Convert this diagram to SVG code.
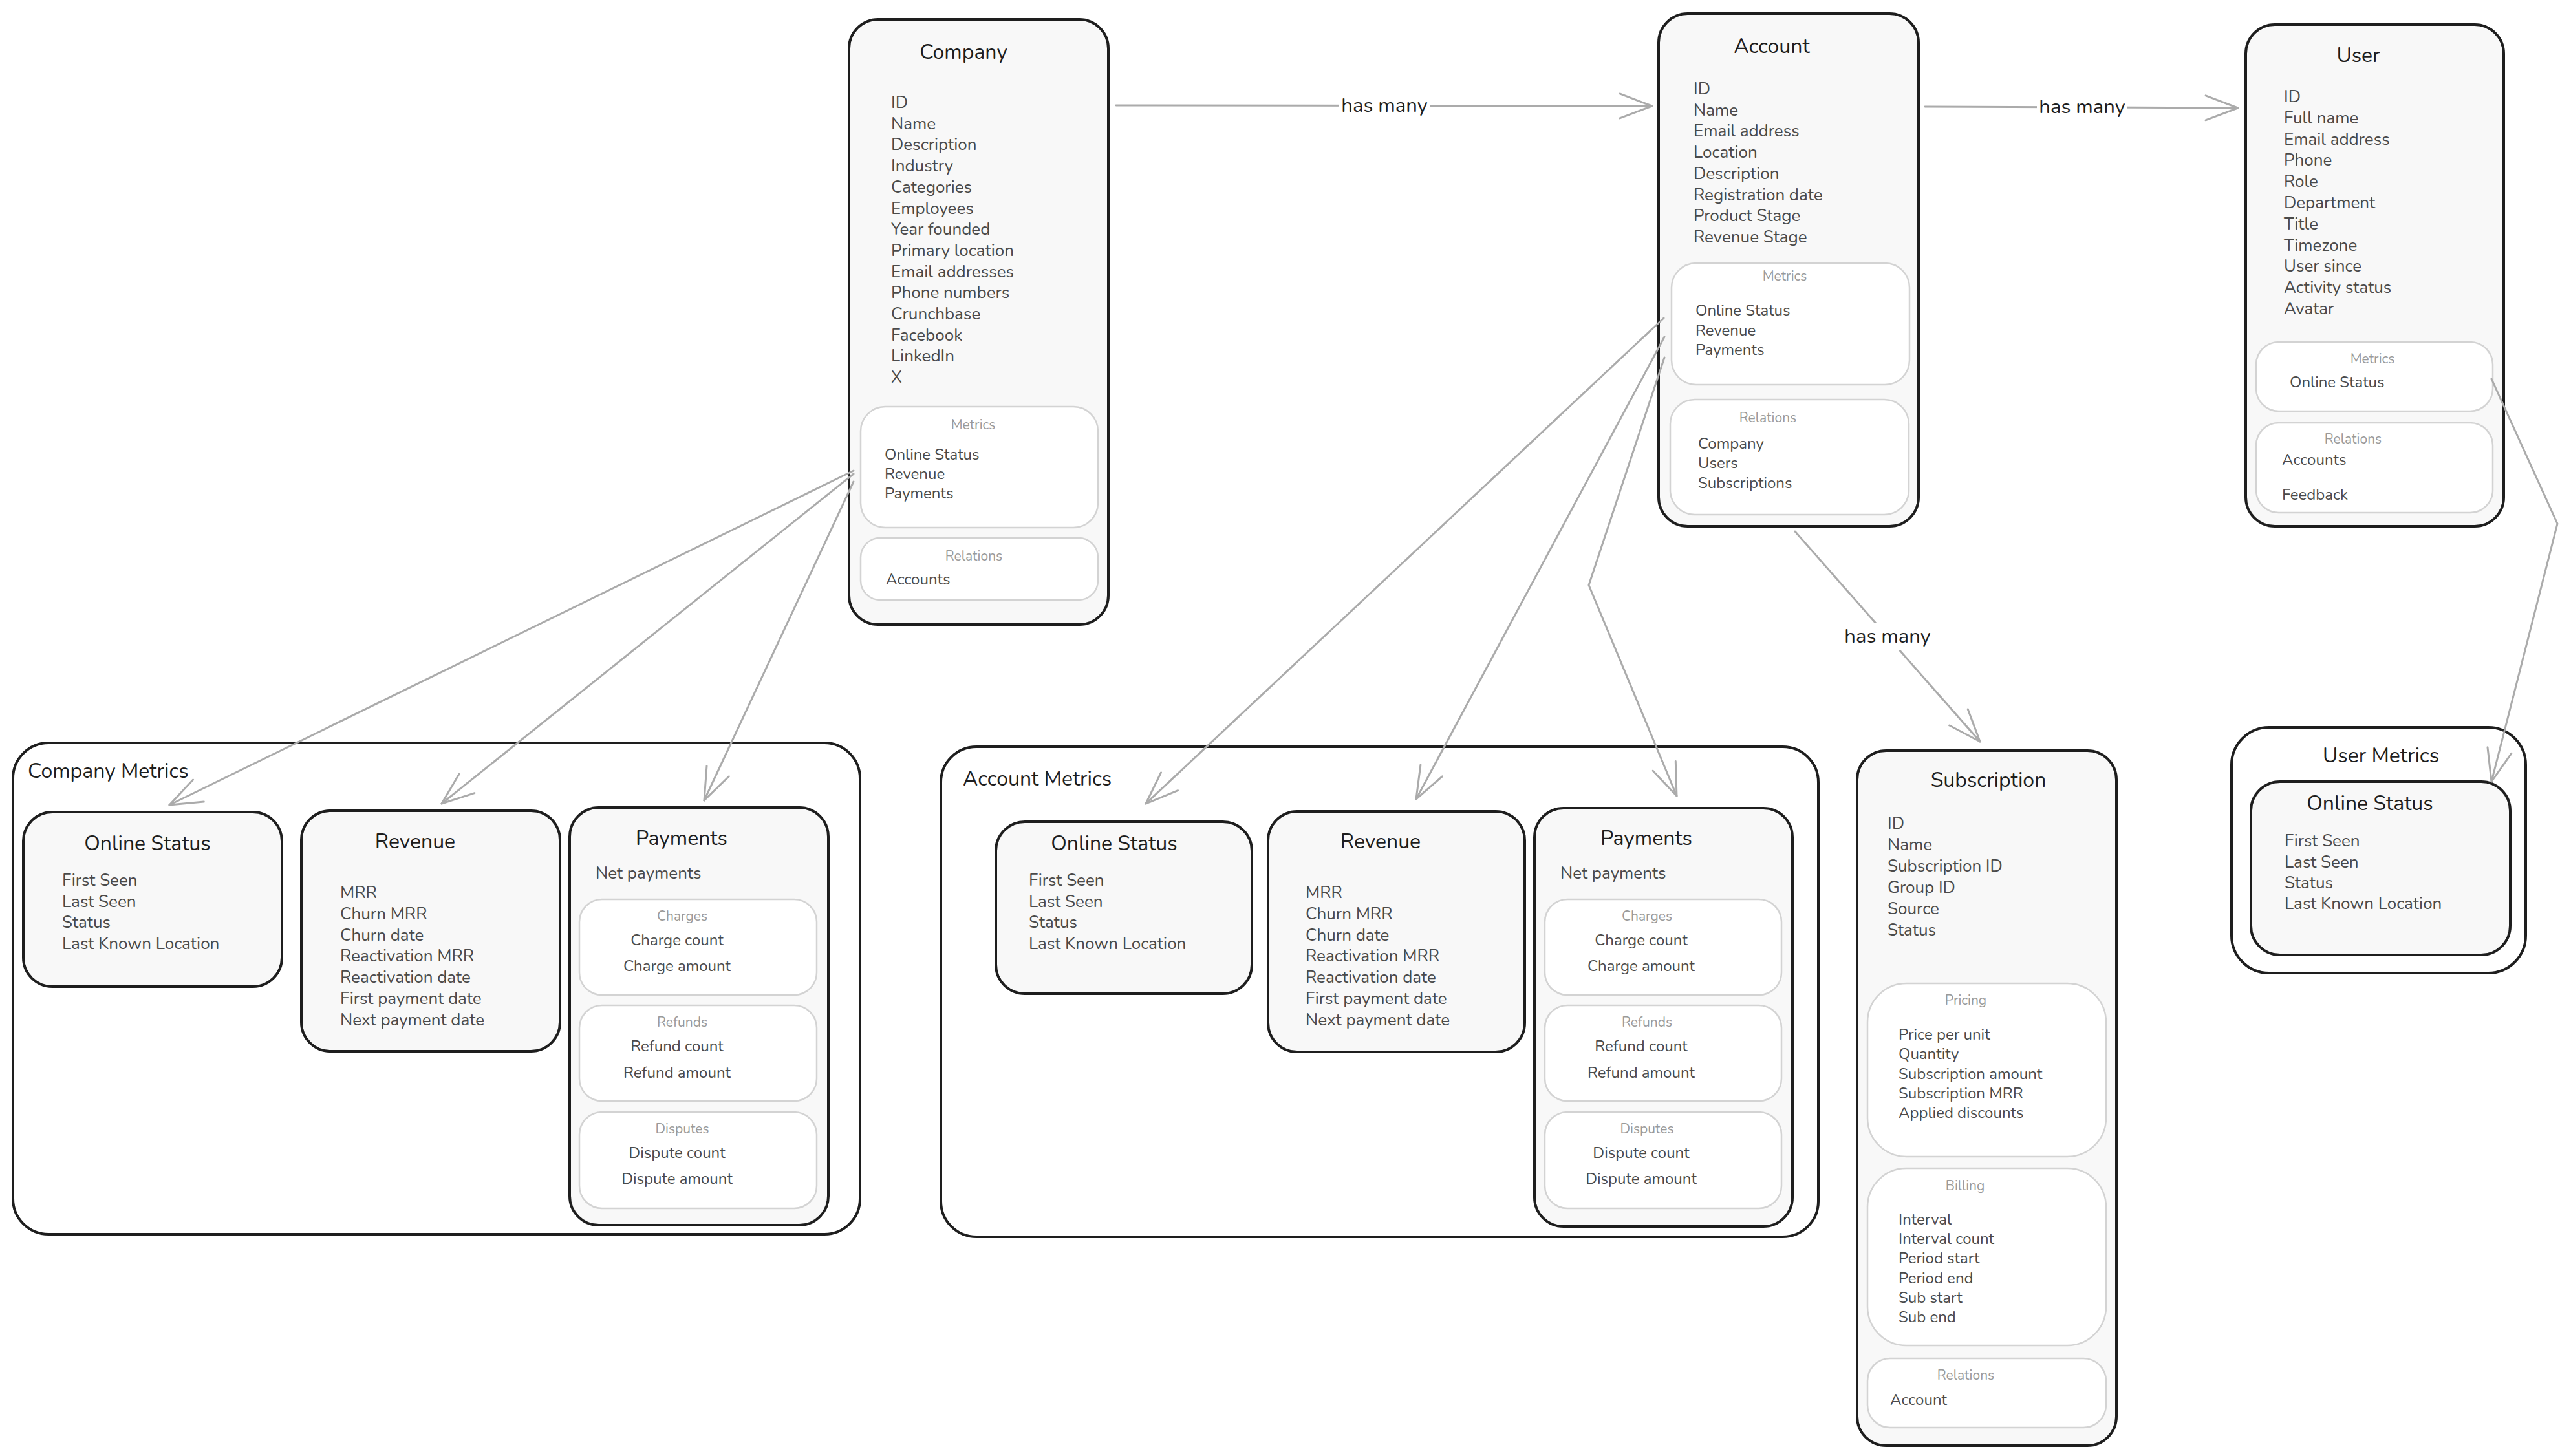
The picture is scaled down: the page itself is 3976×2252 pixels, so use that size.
<svg xmlns="http://www.w3.org/2000/svg" width="3976" height="2252" viewBox="0 0 3976 2252">
<style>
text{font-family:Nunito,Lato,"Open Sans",sans-serif}
.node{fill:#f8f8f8;stroke:#1e1e1e;stroke-width:4}
.grp{fill:#ffffff;stroke:#1e1e1e;stroke-width:4}
.sub{fill:#ffffff;stroke:#d3d3d3;stroke-width:2.5}
.title{font-size:32px;fill:#1e1e1e;text-anchor:middle}
.gtitle{font-size:32px;fill:#1e1e1e}
.f{font-size:26px;fill:#4a4a4a}
.s{font-size:24px;fill:#4a4a4a}
.sc{font-size:24px;fill:#4a4a4a;text-anchor:middle}
.lbl{font-size:21px;fill:#9a9a9a;text-anchor:middle}
.edge{fill:none;stroke:#ababab;stroke-width:3;stroke-linecap:round;stroke-linejoin:round}
.elbl{font-size:31px;fill:#1e1e1e;text-anchor:middle}
</style>
<defs>
<marker id="arr" markerUnits="userSpaceOnUse" markerWidth="60" markerHeight="60" refX="0" refY="0" orient="auto" overflow="visible">
<path d="M-50,-19 L0,0 L-50,19" fill="none" stroke="#ababab" stroke-width="3" stroke-linecap="round" stroke-linejoin="round"/>
</marker>
</defs>
<rect width="3976" height="2252" fill="#ffffff"/>

<g id="company-metrics">
<rect class="grp" x="20" y="1149" width="1310" height="760" rx="55"/>
<text class="gtitle" x="43" y="1203">Company Metrics</text>
<g id="cm-online-status">
<rect class="node" x="36" y="1256" width="400" height="270" rx="45"/>
<text class="title" x="228" y="1315">Online Status</text>
<text class="f" x="96" y="1370">First Seen</text>
<text class="f" x="96" y="1402.7">Last Seen</text>
<text class="f" x="96" y="1435.4">Status</text>
<text class="f" x="96" y="1468">Last Known Location</text>
</g>
<g id="cm-revenue">
<rect class="node" x="466" y="1254" width="400" height="372" rx="45"/>
<text class="title" x="642" y="1312">Revenue</text>
<text class="f" x="526" y="1389">MRR</text>
<text class="f" x="526" y="1421.8">Churn MRR</text>
<text class="f" x="526" y="1454.6">Churn date</text>
<text class="f" x="526" y="1487.4">Reactivation MRR</text>
<text class="f" x="526" y="1520.2">Reactivation date</text>
<text class="f" x="526" y="1553">First payment date</text>
<text class="f" x="526" y="1585.8">Next payment date</text>
</g>
<g id="cm-payments">
<rect class="node" x="881" y="1249" width="400" height="646" rx="45"/>
<text class="title" x="1054" y="1307">Payments</text>
<text class="f" x="921" y="1359">Net payments</text>
<rect class="sub" x="896" y="1391" width="367" height="148" rx="35"/>
<text class="lbl" x="1055" y="1424">Charges</text>
<text class="sc" x="1047" y="1462">Charge count</text>
<text class="sc" x="1047" y="1502">Charge amount</text>
<rect class="sub" x="896" y="1555" width="367" height="148" rx="35"/>
<text class="lbl" x="1055" y="1588">Refunds</text>
<text class="sc" x="1047" y="1626">Refund count</text>
<text class="sc" x="1047" y="1667">Refund amount</text>
<rect class="sub" x="896" y="1720" width="367" height="149" rx="35"/>
<text class="lbl" x="1055" y="1753">Disputes</text>
<text class="sc" x="1047" y="1791">Dispute count</text>
<text class="sc" x="1047" y="1831">Dispute amount</text>
</g>
</g>

<g id="account-metrics">
<rect class="grp" x="1455" y="1155" width="1357" height="758" rx="55"/>
<text class="gtitle" x="1489" y="1215">Account Metrics</text>
<g id="am-online-status">
<rect class="node" x="1540" y="1271" width="396" height="266" rx="45"/>
<text class="title" x="1723" y="1315">Online Status</text>
<text class="f" x="1591" y="1370">First Seen</text>
<text class="f" x="1591" y="1402.7">Last Seen</text>
<text class="f" x="1591" y="1435.4">Status</text>
<text class="f" x="1591" y="1468">Last Known Location</text>
</g>
<g id="am-revenue">
<rect class="node" x="1961" y="1255" width="397" height="372" rx="45"/>
<text class="title" x="2135" y="1312">Revenue</text>
<text class="f" x="2019" y="1389">MRR</text>
<text class="f" x="2019" y="1421.8">Churn MRR</text>
<text class="f" x="2019" y="1454.6">Churn date</text>
<text class="f" x="2019" y="1487.4">Reactivation MRR</text>
<text class="f" x="2019" y="1520.2">Reactivation date</text>
<text class="f" x="2019" y="1553">First payment date</text>
<text class="f" x="2019" y="1585.8">Next payment date</text>
</g>
<g id="am-payments">
<rect class="node" x="2373" y="1250" width="399" height="647" rx="45"/>
<text class="title" x="2546" y="1307">Payments</text>
<text class="f" x="2413" y="1359">Net payments</text>
<rect class="sub" x="2389" y="1391" width="366" height="148" rx="35"/>
<text class="lbl" x="2547" y="1424">Charges</text>
<text class="sc" x="2538" y="1462">Charge count</text>
<text class="sc" x="2538" y="1502">Charge amount</text>
<rect class="sub" x="2389" y="1555" width="366" height="148" rx="35"/>
<text class="lbl" x="2547" y="1588">Refunds</text>
<text class="sc" x="2538" y="1626">Refund count</text>
<text class="sc" x="2538" y="1667">Refund amount</text>
<rect class="sub" x="2389" y="1720" width="366" height="149" rx="35"/>
<text class="lbl" x="2547" y="1753">Disputes</text>
<text class="sc" x="2538" y="1791">Dispute count</text>
<text class="sc" x="2538" y="1831">Dispute amount</text>
</g>
</g>

<g id="user-metrics">
<rect class="grp" x="3451" y="1125" width="455" height="380" rx="58"/>
<text class="title" x="3682" y="1179">User Metrics</text>
<g id="um-online-status">
<rect class="node" x="3481" y="1209" width="401" height="268" rx="45"/>
<text class="title" x="3665" y="1253">Online Status</text>
<text class="f" x="3533" y="1309">First Seen</text>
<text class="f" x="3533" y="1342">Last Seen</text>
<text class="f" x="3533" y="1374">Status</text>
<text class="f" x="3533" y="1406">Last Known Location</text>
</g>
</g>

<g id="company">
<rect class="node" x="1313" y="30" width="401" height="936" rx="45"/>
<text class="title" x="1490" y="91">Company</text>
<text class="f" x="1378" y="167">ID</text>
<text class="f" x="1378" y="199.7">Name</text>
<text class="f" x="1378" y="232.4">Description</text>
<text class="f" x="1378" y="265.1">Industry</text>
<text class="f" x="1378" y="297.8">Categories</text>
<text class="f" x="1378" y="330.5">Employees</text>
<text class="f" x="1378" y="363.2">Year founded</text>
<text class="f" x="1378" y="395.9">Primary location</text>
<text class="f" x="1378" y="428.6">Email addresses</text>
<text class="f" x="1378" y="461.3">Phone numbers</text>
<text class="f" x="1378" y="494">Crunchbase</text>
<text class="f" x="1378" y="526.7">Facebook</text>
<text class="f" x="1378" y="559.4">LinkedIn</text>
<text class="f" x="1378" y="592">X</text>
<rect class="sub" x="1331" y="629" width="367" height="187" rx="38"/>
<text class="lbl" x="1505" y="664">Metrics</text>
<text class="s" x="1368" y="711">Online Status</text>
<text class="s" x="1368" y="741">Revenue</text>
<text class="s" x="1368" y="771">Payments</text>
<rect class="sub" x="1331" y="832" width="367" height="96" rx="30"/>
<text class="lbl" x="1506" y="867">Relations</text>
<text class="s" x="1370" y="904">Accounts</text>
</g>

<g id="account">
<rect class="node" x="2565" y="21" width="402" height="793" rx="45"/>
<text class="title" x="2740" y="82">Account</text>
<text class="f" x="2619" y="146">ID</text>
<text class="f" x="2619" y="178.7">Name</text>
<text class="f" x="2619" y="211.4">Email address</text>
<text class="f" x="2619" y="244.1">Location</text>
<text class="f" x="2619" y="276.8">Description</text>
<text class="f" x="2619" y="309.5">Registration date</text>
<text class="f" x="2619" y="342.2">Product Stage</text>
<text class="f" x="2619" y="375">Revenue Stage</text>
<rect class="sub" x="2585" y="407" width="368" height="188" rx="38"/>
<text class="lbl" x="2760" y="434">Metrics</text>
<text class="s" x="2622" y="488">Online Status</text>
<text class="s" x="2622" y="519">Revenue</text>
<text class="s" x="2622" y="549">Payments</text>
<rect class="sub" x="2583" y="618" width="369" height="178" rx="38"/>
<text class="lbl" x="2734" y="653">Relations</text>
<text class="s" x="2626" y="694">Company</text>
<text class="s" x="2626" y="724">Users</text>
<text class="s" x="2626" y="755">Subscriptions</text>
</g>

<g id="user">
<rect class="node" x="3473" y="38" width="399" height="776" rx="45"/>
<text class="title" x="3647" y="96">User</text>
<text class="f" x="3532" y="158">ID</text>
<text class="f" x="3532" y="190.8">Full name</text>
<text class="f" x="3532" y="223.6">Email address</text>
<text class="f" x="3532" y="256.4">Phone</text>
<text class="f" x="3532" y="289.2">Role</text>
<text class="f" x="3532" y="322">Department</text>
<text class="f" x="3532" y="354.8">Title</text>
<text class="f" x="3532" y="387.6">Timezone</text>
<text class="f" x="3532" y="420.4">User since</text>
<text class="f" x="3532" y="453.2">Activity status</text>
<text class="f" x="3532" y="486">Avatar</text>
<rect class="sub" x="3489" y="529" width="366" height="107" rx="35"/>
<text class="lbl" x="3669" y="562">Metrics</text>
<text class="s" x="3541" y="599">Online Status</text>
<rect class="sub" x="3489" y="654" width="366" height="139" rx="35"/>
<text class="lbl" x="3639" y="686">Relations</text>
<text class="s" x="3529" y="719">Accounts</text>
<text class="s" x="3529" y="773">Feedback</text>
</g>

<g id="subscription">
<rect class="node" x="2872" y="1161" width="401" height="1075" rx="45"/>
<text class="title" x="3075" y="1217">Subscription</text>
<text class="f" x="2919" y="1282">ID</text>
<text class="f" x="2919" y="1315">Name</text>
<text class="f" x="2919" y="1348">Subscription ID</text>
<text class="f" x="2919" y="1381">Group ID</text>
<text class="f" x="2919" y="1414">Source</text>
<text class="f" x="2919" y="1447">Status</text>
<rect class="sub" x="2888" y="1521" width="369" height="268" rx="60"/>
<text class="lbl" x="3040" y="1554">Pricing</text>
<text class="s" x="2936" y="1608">Price per unit</text>
<text class="s" x="2936" y="1638.2">Quantity</text>
<text class="s" x="2936" y="1668.5">Subscription amount</text>
<text class="s" x="2936" y="1698.7">Subscription MRR</text>
<text class="s" x="2936" y="1729">Applied discounts</text>
<rect class="sub" x="2888" y="1807" width="369" height="274" rx="60"/>
<text class="lbl" x="3039" y="1841">Billing</text>
<text class="s" x="2936" y="1894">Interval</text>
<text class="s" x="2936" y="1924.2">Interval count</text>
<text class="s" x="2936" y="1954.4">Period start</text>
<text class="s" x="2936" y="1984.6">Period end</text>
<text class="s" x="2936" y="2014.8">Sub start</text>
<text class="s" x="2936" y="2045">Sub end</text>
<rect class="sub" x="2888" y="2101" width="369" height="107" rx="35"/>
<text class="lbl" x="3040" y="2134">Relations</text>
<text class="s" x="2923" y="2173">Account</text>
</g>

<g id="connectors">
<path class="edge" d="M1726,163 L2555,164" marker-end="url(#arr)"/>
<rect x="2071" y="142" width="140" height="42" fill="#ffffff"/>
<text class="elbl" x="2141" y="173">has many</text>
<path class="edge" d="M2977,165 L3461,167" marker-end="url(#arr)"/>
<rect x="3150" y="144" width="140" height="42" fill="#ffffff"/>
<text class="elbl" x="3220" y="175">has many</text>
<path class="edge" d="M2776,822 L3062,1147" marker-end="url(#arr)"/>
<rect x="2849" y="963" width="140" height="42" fill="#ffffff"/>
<text class="elbl" x="2919" y="994">has many</text>
<path class="edge" d="M3853,586 L3955,810 L3853,1209" marker-end="url(#arr)"/>
<path class="edge" d="M1320,728 L262,1245" marker-end="url(#arr)"/>
<path class="edge" d="M1320,733 L683,1243" marker-end="url(#arr)"/>
<path class="edge" d="M1320,745 L1089,1238" marker-end="url(#arr)"/>
<path class="edge" d="M2573,492 L1772,1243" marker-end="url(#arr)"/>
<path class="edge" d="M2574,521 L2190,1236" marker-end="url(#arr)"/>
<path class="edge" d="M2574,553 L2457,905 L2593,1231" marker-end="url(#arr)"/>
</g>
</svg>
